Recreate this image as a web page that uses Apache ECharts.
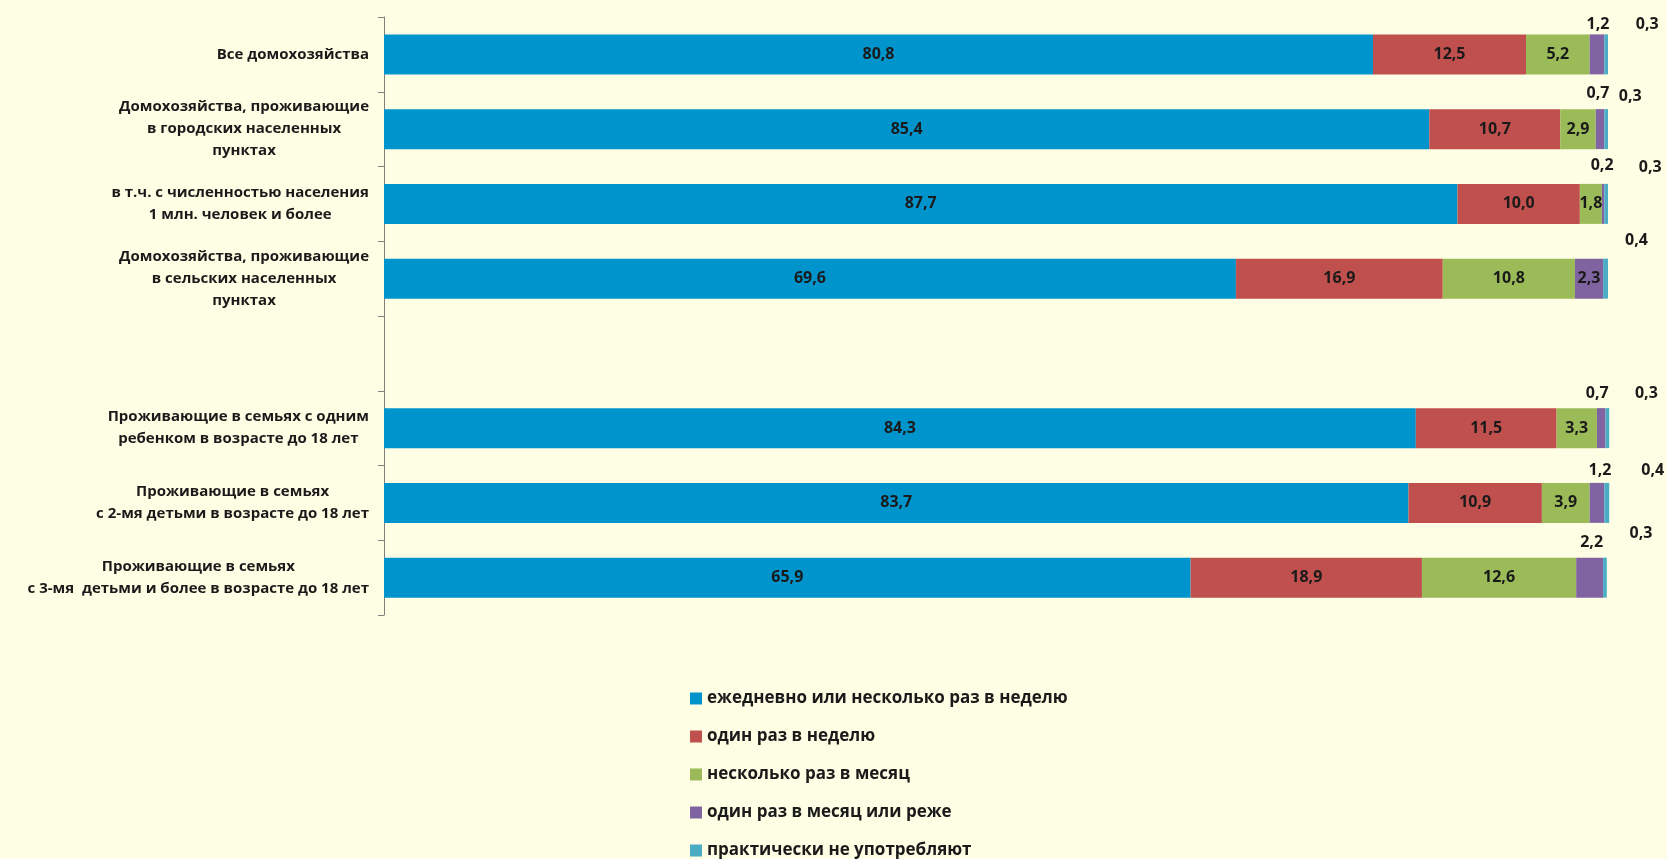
<!DOCTYPE html>
<html><head><meta charset="utf-8">
<script src="https://cdn.jsdelivr.net/npm/echarts@6/dist/echarts.min.js"></script>
<style>html,body{margin:0;padding:0;background:#FEFEE4;}#c{width:1667px;height:859px;}</style>
</head><body><div id="c"></div>
<script>
const categories = [
  'Все домохозяйства',
  'Домохозяйства, проживающие\nв городских населенных\nпунктах',
  'в т.ч. с численностью населения\n1 млн. человек и более',
  'Домохозяйства, проживающие\nв сельских населенных\nпунктах',
  '',
  'Проживающие в семьях с одним\nребенком в возрасте до 18 лет',
  'Проживающие в семьях\nс 2-мя детьми в возрасте до 18 лет',
  'Проживающие в семьях\nс 3-мя  детьми и более в возрасте до 18 лет'
];
const seriesNames = [
  'ежедневно или несколько раз в неделю',
  'один раз в неделю',
  'несколько раз в месяц',
  'один раз в месяц или реже',
  'практически не употребляют'
];
const daily   = [80.8, 85.4, 87.7, 69.6, null, 84.3, 83.7, 65.9];
const weekly  = [12.5, 10.7, 10.0, 16.9, null, 11.5, 10.9, 18.9];
const monthly = [5.2, 2.9, 1.8, 10.8, null, 3.3, 3.9, 12.6];
const rarely  = [1.2, 0.7, 0.2, 2.3, null, 0.7, 1.2, 2.2];
const never   = [0.3, 0.3, 0.3, 0.4, null, 0.3, 0.4, 0.3];

// layout only: label placement for small segments
const rarelyInside = [false, false, false, true, false, false, false, false];
const rarelyOffsets = [[1,3],[-2,-3],[-1,-5],[0,0],[0,0],[-4,-2],[3,1],[2,-2]];
const neverOffsets  = [[41,3],[24,0],[44,-3],[31,-5],[0,0],[39,-2],[46,1],[36,-11]];

const colors = ['#0094CC', '#C0504D', '#9BBB59', '#8064A2', '#4BACC6'];
const FONT = '"Open Sans", "Noto Sans", sans-serif';
const fmt = v => (v == null ? '' : v.toFixed(1).replace('.', ','));
const labelBase = { fontFamily: FONT, fontWeight: 'bold', fontSize: 16, color: '#1a1a1a' };

function insideSeries(name, data, color) {
  return {
    name, type: 'bar', stack: 'total', data, barWidth: 40, clip: false,
    itemStyle: { color },
    label: Object.assign({ show: true, position: 'inside', formatter: p => fmt(p.value) }, labelBase)
  };
}
function topLabelSeries(name, data, color, offsets, insideFlags) {
  return {
    name, type: 'bar', stack: 'total', barWidth: 40, clip: false,
    itemStyle: { color },
    data: data.map((v, i) => ({
      value: v,
      label: Object.assign({
        show: v != null,
        position: insideFlags && insideFlags[i] ? 'inside' : 'top',
        offset: insideFlags && insideFlags[i] ? [0, 0] : offsets[i],
        formatter: p => fmt(p.value)
      }, labelBase)
    }))
  };
}

const chart = echarts.init(document.getElementById('c'), null, { renderer: 'canvas' });
chart.setOption({
  backgroundColor: '#FEFEE4',
  animation: false,
  color: colors,
  grid: { left: 384, right: 59, top: 17, bottom: 244, containLabel: false },
  xAxis: { type: 'value', min: 0, max: 100, show: false },
  yAxis: {
    type: 'category', inverse: true, data: categories,
    axisLine: { show: true, lineStyle: { color: '#7f7f7f', width: 1 } },
    axisTick: { show: true, length: 6, lineStyle: { color: '#7f7f7f' } },
    axisLabel: {
      margin: 15, align: 'right',
      formatter: v => v.split('\n').map(s => '{c|' + s + '}').join('\n'),
      rich: { c: { align: 'center', fontFamily: FONT, fontWeight: 'bold', fontSize: 15, lineHeight: 22, color: '#1a1a1a' } }
    },
    splitLine: { show: false }
  },
  legend: {
    orient: 'vertical', left: 690, top: 690, padding: 0, height: 240, width: 500,
    itemWidth: 12, itemHeight: 12, itemGap: 21,
    icon: 'rect',
    data: seriesNames,
    textStyle: { fontFamily: FONT, fontWeight: 'bold', fontSize: 17, lineHeight: 17, color: '#1a1a1a' }
  },
  series: [
    insideSeries(seriesNames[0], daily, colors[0]),
    insideSeries(seriesNames[1], weekly, colors[1]),
    insideSeries(seriesNames[2], monthly, colors[2]),
    topLabelSeries(seriesNames[3], rarely, colors[3], rarelyOffsets, rarelyInside),
    topLabelSeries(seriesNames[4], never, colors[4], neverOffsets, null)
  ]
});
</script>
</body></html>
